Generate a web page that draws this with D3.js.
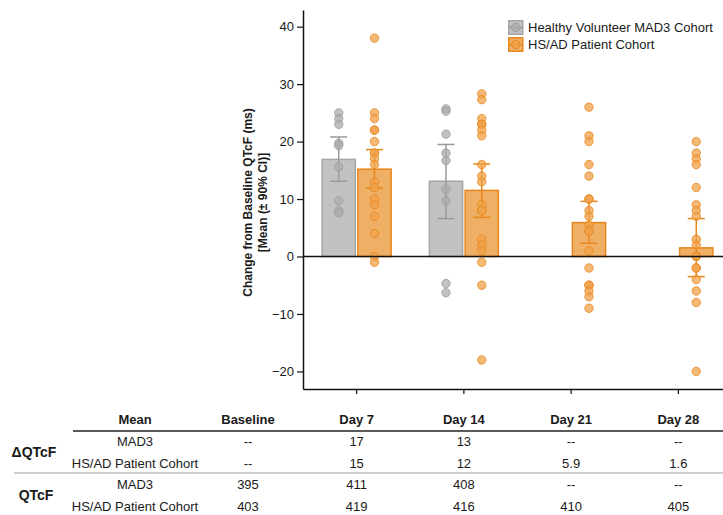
<!DOCTYPE html>
<html><head><meta charset="utf-8">
<script src="https://cdn.jsdelivr.net/npm/d3@7/dist/d3.min.js"></script>
<style>
html,body{margin:0;padding:0;background:#fff;overflow:hidden}
text{font-family:"Liberation Sans",Arial,sans-serif;fill:#1a1a1a}
</style></head>
<body><svg id="c" width="723" height="515"></svg>
<script>
// ---- data ----
const days = ["Day 7", "Day 14", "Day 21", "Day 28"];
const series = ["Healthy Volunteer MAD3 Cohort", "HS/AD Patient Cohort"];
const yTicks = [-20, -10, 0, 10, 20, 30, 40];

const hvMean = [16.9, 13.1, null, null];
const hvLow  = [13.1, 6.6, null, null];
const hvHigh = [20.8, 19.5, null, null];
const hsMean = [15.2, 11.5, 5.9, 1.5];
const hsLow  = [11.9, 6.8, 2.3, -3.5];
const hsHigh = [18.6, 16.1, 9.6, 6.6];

const hvPoints = [
  [25, 24, 23, 19.7, 19.3, 15.6, 9.7, 8.0, 7.6],
  [25.7, 25.3, 21.3, 18, 16.7, 11.7, 9.7, -4.7, -6.3],
  [], []
];
const hsPoints = [
  [38, 25, 24, 22, 22, 20, 18, 18, 17, 16, 13, 12, 10, 9, 7, 4, 0, -1],
  [28.3, 27.3, 24, 23, 23, 22, 21, 16, 14, 13, 9, 8, 8, 3, 2, 1, -1, -5, -18],
  [26, 21, 20, 16, 14, 10, 10, 8, 7, 5.5, 4.4, 4.4, 1, -2, -5, -5, -6, -7, -9],
  [20, 18, 17, 16, 12, 9, 8, 7, 3, 2, 0, 0, -2, -2, -4, -6, -8, -20]
];

const tableCols = ["Baseline", "Day 7", "Day 14", "Day 21", "Day 28"];
const dMad3 = ["--", "17", "13", "--", "--"];
const dHs   = ["--", "15", "12", "5.9", "1.6"];
const qMad3 = ["395", "411", "408", "--", "--"];
const qHs   = ["403", "419", "416", "410", "405"];
const rowLabels = ["MAD3", "HS/AD Patient Cohort"];
const groupLabels = ["\u0394QTcF", "QTcF"];

// ---- layout ----
const svg = d3.select("#c");
const L = 303, T = 10, B = 389, R = 732;
const x = d3.scaleBand().domain(days).range([L, R]).padding(0);
const sub = d3.scaleBand().domain(series).range([-34.5, 34.5]).paddingInner(0.07);
const y = d3.scaleLinear().domain([-23.06, 42.9]).range([B, T]);

const col = {
  hv: {bar: "#c2c2c2", barStroke: "#a6a6a6", pt: "#acacac", ptStroke: "#9c9c9c", err: "#9a9a9a"},
  hs: {bar: "#efb066", barStroke: "#e8861c", pt: "#f0a24a", ptStroke: "#e8861c", err: "#e8861c"}
};

const g = svg.append("g");

function drawSeries(key, sName, means, lows, highs, pts) {
  const c = col[key];
  const cx = d => x(days[d]) + x.bandwidth() / 2 + sub(sName) + sub.bandwidth() / 2;
  const idx = days.map((_, i) => i).filter(i => means[i] !== null);
  // bars
  g.selectAll(null).data(idx).enter().append("rect")
    .attr("x", i => x(days[i]) + x.bandwidth() / 2 + sub(sName))
    .attr("width", sub.bandwidth())
    .attr("y", i => Math.min(y(means[i]), y(0)))
    .attr("height", i => Math.abs(y(0) - y(means[i])))
    .attr("fill", c.bar).attr("stroke", c.barStroke).attr("stroke-width", 1.5);
  return {c, cx, idx};
}
function drawErr(info, lows, highs) {
  const {c, cx, idx} = info;
  idx.forEach(i => {
    const X = cx(i);
    g.append("line").attr("x1", X).attr("x2", X).attr("y1", y(lows[i])).attr("y2", y(highs[i]))
      .attr("stroke", c.err).attr("stroke-width", 1.5);
    [lows[i], highs[i]].forEach(v => g.append("line").attr("x1", X - 8.5).attr("x2", X + 8.5)
      .attr("y1", y(v)).attr("y2", y(v)).attr("stroke", c.err).attr("stroke-width", 1.5));
  });
}
function drawPts(info, pts) {
  const {c, cx} = info;
  pts.forEach((arr, i) => {
    g.selectAll(null).data(arr).enter().append("circle")
      .attr("cx", cx(i)).attr("cy", v => y(v)).attr("r", 4.2)
      .attr("fill", c.pt).attr("fill-opacity", 0.75)
      .attr("stroke", c.ptStroke).attr("stroke-opacity", 0.8).attr("stroke-width", 1);
  });
}
const hv = drawSeries("hv", series[0], hvMean, hvLow, hvHigh, hvPoints);
const hs = drawSeries("hs", series[1], hsMean, hsLow, hsHigh, hsPoints);
drawErr(hv, hvLow, hvHigh);
drawErr(hs, hsLow, hsHigh);
drawPts(hv, hvPoints);
drawPts(hs, hsPoints);

// zero line
svg.append("line").attr("x1", L).attr("x2", R).attr("y1", y(0)).attr("y2", y(0))
  .attr("stroke", "#111").attr("stroke-width", 1.5);

// axes
const ya = svg.append("g").attr("transform", `translate(${L},0)`)
  .call(d3.axisLeft(y).tickValues(yTicks).tickSize(6).tickPadding(3).tickSizeOuter(0));
ya.select(".domain").attr("stroke", "#111").attr("stroke-width", 1.5);
ya.selectAll(".tick line").attr("stroke", "#111").attr("stroke-width", 1.2);
ya.selectAll(".tick text").style("font-size", "13px").style("font-family", "Liberation Sans, Arial, sans-serif").attr("fill", "#1a1a1a");

const xa = svg.append("g").attr("transform", `translate(0,${B})`)
  .call(d3.axisBottom(x).tickSize(5).tickSizeOuter(0).tickFormat(""));
xa.select(".domain").attr("stroke", "#111").attr("stroke-width", 1.5);
xa.selectAll(".tick line").attr("stroke", "#111").attr("stroke-width", 1.2);

// y title
const yt = svg.append("text").attr("transform", `translate(252,${(T + B) / 2 + 3}) rotate(-90)`)
  .attr("text-anchor", "middle").style("font-size", "12px").style("font-weight", "bold");
yt.append("tspan").attr("x", 0).attr("y", 0).text("Change from Baseline QTcF (ms)");
yt.append("tspan").attr("x", 0).attr("y", 15).text("[Mean (\u00b1 90% CI)]");

// legend
const leg = svg.append("g").attr("transform", "translate(508,20)");
[["hv", series[0]], ["hs", series[1]]].forEach(([k, name], i) => {
  const c = col[k];
  const gg = leg.append("g").attr("transform", `translate(0,${i * 17})`);
  gg.append("rect").attr("x", 0.75).attr("y", 0.75).attr("width", 14).attr("height", 13.5)
    .attr("fill", c.bar).attr("stroke", c.barStroke).attr("stroke-width", 1.5);
  gg.append("line").attr("x1", 1).attr("x2", 15).attr("y1", 7.5).attr("y2", 7.5)
    .attr("stroke", c.err).attr("stroke-width", 1.2);
  gg.append("circle").attr("cx", 7.75).attr("cy", 7.5).attr("r", 4.2)
    .attr("fill", c.pt).attr("fill-opacity", 0.75).attr("stroke", c.ptStroke).attr("stroke-width", 1);
  gg.append("text").attr("x", 20).attr("y", 7.5).attr("dy", "0.35em")
    .style("font-size", "13px").text(name);
});

// table
const colX = c => c === "Baseline" ? 248 : x(c) + x.bandwidth() / 2;
const tb = svg.append("g");
const hdrY = 419;
tb.append("text").attr("x", 135).attr("y", hdrY).attr("dy", "0.35em").attr("text-anchor", "middle")
  .style("font-size", "13px").style("font-weight", "bold").text("Mean");
tb.selectAll(null).data(tableCols).enter().append("text")
  .attr("x", colX).attr("y", hdrY).attr("dy", "0.35em").attr("text-anchor", "middle")
  .style("font-size", "13px").style("font-weight", "bold").text(d => d);
tb.append("line").attr("x1", 73).attr("x2", 723).attr("y1", 431).attr("y2", 431)
  .attr("stroke", "#5a5a5a").attr("stroke-width", 2);
tb.append("line").attr("x1", 14).attr("x2", 723).attr("y1", 473).attr("y2", 473)
  .attr("stroke", "#a0a0a0").attr("stroke-width", 1.2);

const rows = [[dMad3, 441.5], [dHs, 463.5], [qMad3, 484], [qHs, 506]];
rows.forEach(([vals, ry], ri) => {
  tb.append("text").attr("x", 135).attr("y", ry).attr("dy", "0.35em").attr("text-anchor", "middle")
    .style("font-size", "13px").text(rowLabels[ri % 2]);
  tb.selectAll(null).data(vals).enter().append("text")
    .attr("x", (d, i) => colX(tableCols[i])).attr("y", ry).attr("dy", "0.35em").attr("text-anchor", "middle")
    .style("font-size", "13px").text(d => d);
});
tb.append("text").attr("x", 34).attr("y", 452).attr("dy", "0.35em").attr("text-anchor", "middle")
  .style("font-size", "14px").style("font-weight", "bold").text(groupLabels[0]);
tb.append("text").attr("x", 36).attr("y", 495).attr("dy", "0.35em").attr("text-anchor", "middle")
  .style("font-size", "14px").style("font-weight", "bold").text(groupLabels[1]);
</script>
</body></html>
